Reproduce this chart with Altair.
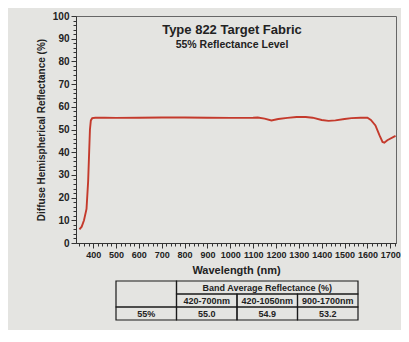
import altair as alt
import pandas as pd

# Spectral curve
wavelength = [340, 350, 360, 371, 378, 386, 390, 396, 410, 450, 500, 600, 700, 800,
              900, 1000, 1050, 1100, 1120, 1150, 1180, 1210, 1250, 1290, 1330, 1360,
              1400, 1430, 1460, 1500, 1530, 1570, 1600, 1615, 1635, 1653, 1666, 1674,
              1687, 1723]
reflectance = [6.0, 7.2, 10.0, 15.0, 27.0, 50.0, 54.0, 55.0, 55.2, 55.2, 55.1, 55.2,
               55.3, 55.3, 55.2, 55.1, 55.1, 55.2, 55.3, 54.8, 54.0, 54.6, 55.1, 55.5,
               55.5, 55.2, 54.2, 53.8, 54.0, 54.6, 55.0, 55.2, 55.2, 54.2, 51.8, 47.4,
               44.5, 44.2, 45.3, 47.2]

# Table below the chart
table_text = ["", "Band Average Reflectance (%)", "420-700nm", "420-1050nm", "900-1700nm",
              "55%", "55.0", "54.9", "53.2"]
col_start = [0, 1, 1, 2, 3, 0, 1, 2, 3]
col_end = [1, 4, 2, 3, 4, 1, 2, 3, 4]
row_start = [0, 0, 1, 1, 1, 2, 2, 2, 2]
row_end = [2, 1, 2, 2, 2, 3, 3, 3, 3]

x_ticks = list(range(340, 1721, 20))
y_ticks = list(range(0, 101, 2))

FONT = "Liberation Sans"
INK = "#222222"

df = pd.DataFrame({"wl": wavelength, "r": reflectance})
tdf = pd.DataFrame({
    "t": table_text, "c0": col_start, "c1": col_end, "r0": row_start, "r1": row_end,
})
tdf["xc"] = (tdf["c0"] + tdf["c1"]) / 2
tdf["yc"] = (tdf["r0"] + tdf["r1"]) / 2

line = alt.Chart(df).mark_line(color="#c43a2c", strokeWidth=1.9).encode(
    x=alt.X("wl:Q",
            scale=alt.Scale(domain=[325, 1725], nice=False, zero=False),
            axis=alt.Axis(
                title="Wavelength (nm)", values=x_ticks, format="d",
                labelExpr="datum.value % 100 === 0 && datum.value >= 400 && datum.value <= 1700 ? datum.label : ''",
                labelOverlap=False, grid=False,
                tickSize={"condition": {"test": "datum.value % 100 === 0", "value": 5}, "value": 3},
                labelFontSize=9, labelFont=FONT, labelFontWeight="bold", labelColor=INK,
                labelPadding=2, titleFontSize=11, titleFont=FONT, titleFontWeight="bold",
                titleColor=INK, titlePadding=5, domainColor="#333", tickColor="#333",
            )),
    y=alt.Y("r:Q",
            scale=alt.Scale(domain=[0, 100], nice=False),
            axis=alt.Axis(
                title="Diffuse Hemispherical Reflectance (%)", values=y_ticks,
                labelExpr="datum.value % 10 === 0 ? datum.label : ''",
                labelOverlap=False, grid=False,
                tickSize={"condition": {"test": "datum.value % 10 === 0", "value": 5}, "value": 3},
                labelFontSize=10, labelFont=FONT, labelFontWeight="bold", labelColor=INK,
                labelPadding=2, titleFontSize=10, titleFont=FONT, titleFontWeight="bold",
                titleColor=INK, titlePadding=6, domainColor="#333", tickColor="#333",
            )),
)

tx = alt.Scale(domain=[0, 4], range=[40, 282], nice=False, zero=False)
ty = alt.Scale(domain=[0, 3], range=[265, 304], nice=False, zero=False)

cells = alt.Chart(tdf).mark_rect(fill="transparent", stroke="#1a1a1a", strokeWidth=1.2).encode(
    x=alt.X("c0:Q", scale=tx, axis=None), x2="c1:Q",
    y=alt.Y("r0:Q", scale=ty, axis=None), y2="r1:Q",
)
texts = alt.Chart(tdf).mark_text(font=FONT, fontSize=9, fontWeight="bold", color=INK).encode(
    x=alt.X("xc:Q", scale=tx, axis=None),
    y=alt.Y("yc:Q", scale=ty, axis=None),
    text="t:N",
)

chart = alt.layer(line, cells, texts).resolve_scale(
    x="independent", y="independent"
).properties(
    width=320, height=227,
    autosize=alt.AutoSizeParams(type="none"),
    padding={"left": 68, "top": 8, "right": 5, "bottom": 87},
    background="#e4e4e1",
    title=alt.TitleParams(
        "Type 822 Target Fabric", subtitle="55% Reflectance Level",
        font=FONT, subtitleFont=FONT, fontSize=13, subtitleFontSize=10.5,
        fontWeight="bold", subtitleFontWeight="bold", color=INK, subtitleColor=INK,
        anchor="middle", frame="group", offset=-39, dx=-4, subtitlePadding=3,
    ),
).configure_view(stroke="#666666", strokeWidth=1)

chart.save("out.html", embed_options={"renderer": "svg", "actions": False})
